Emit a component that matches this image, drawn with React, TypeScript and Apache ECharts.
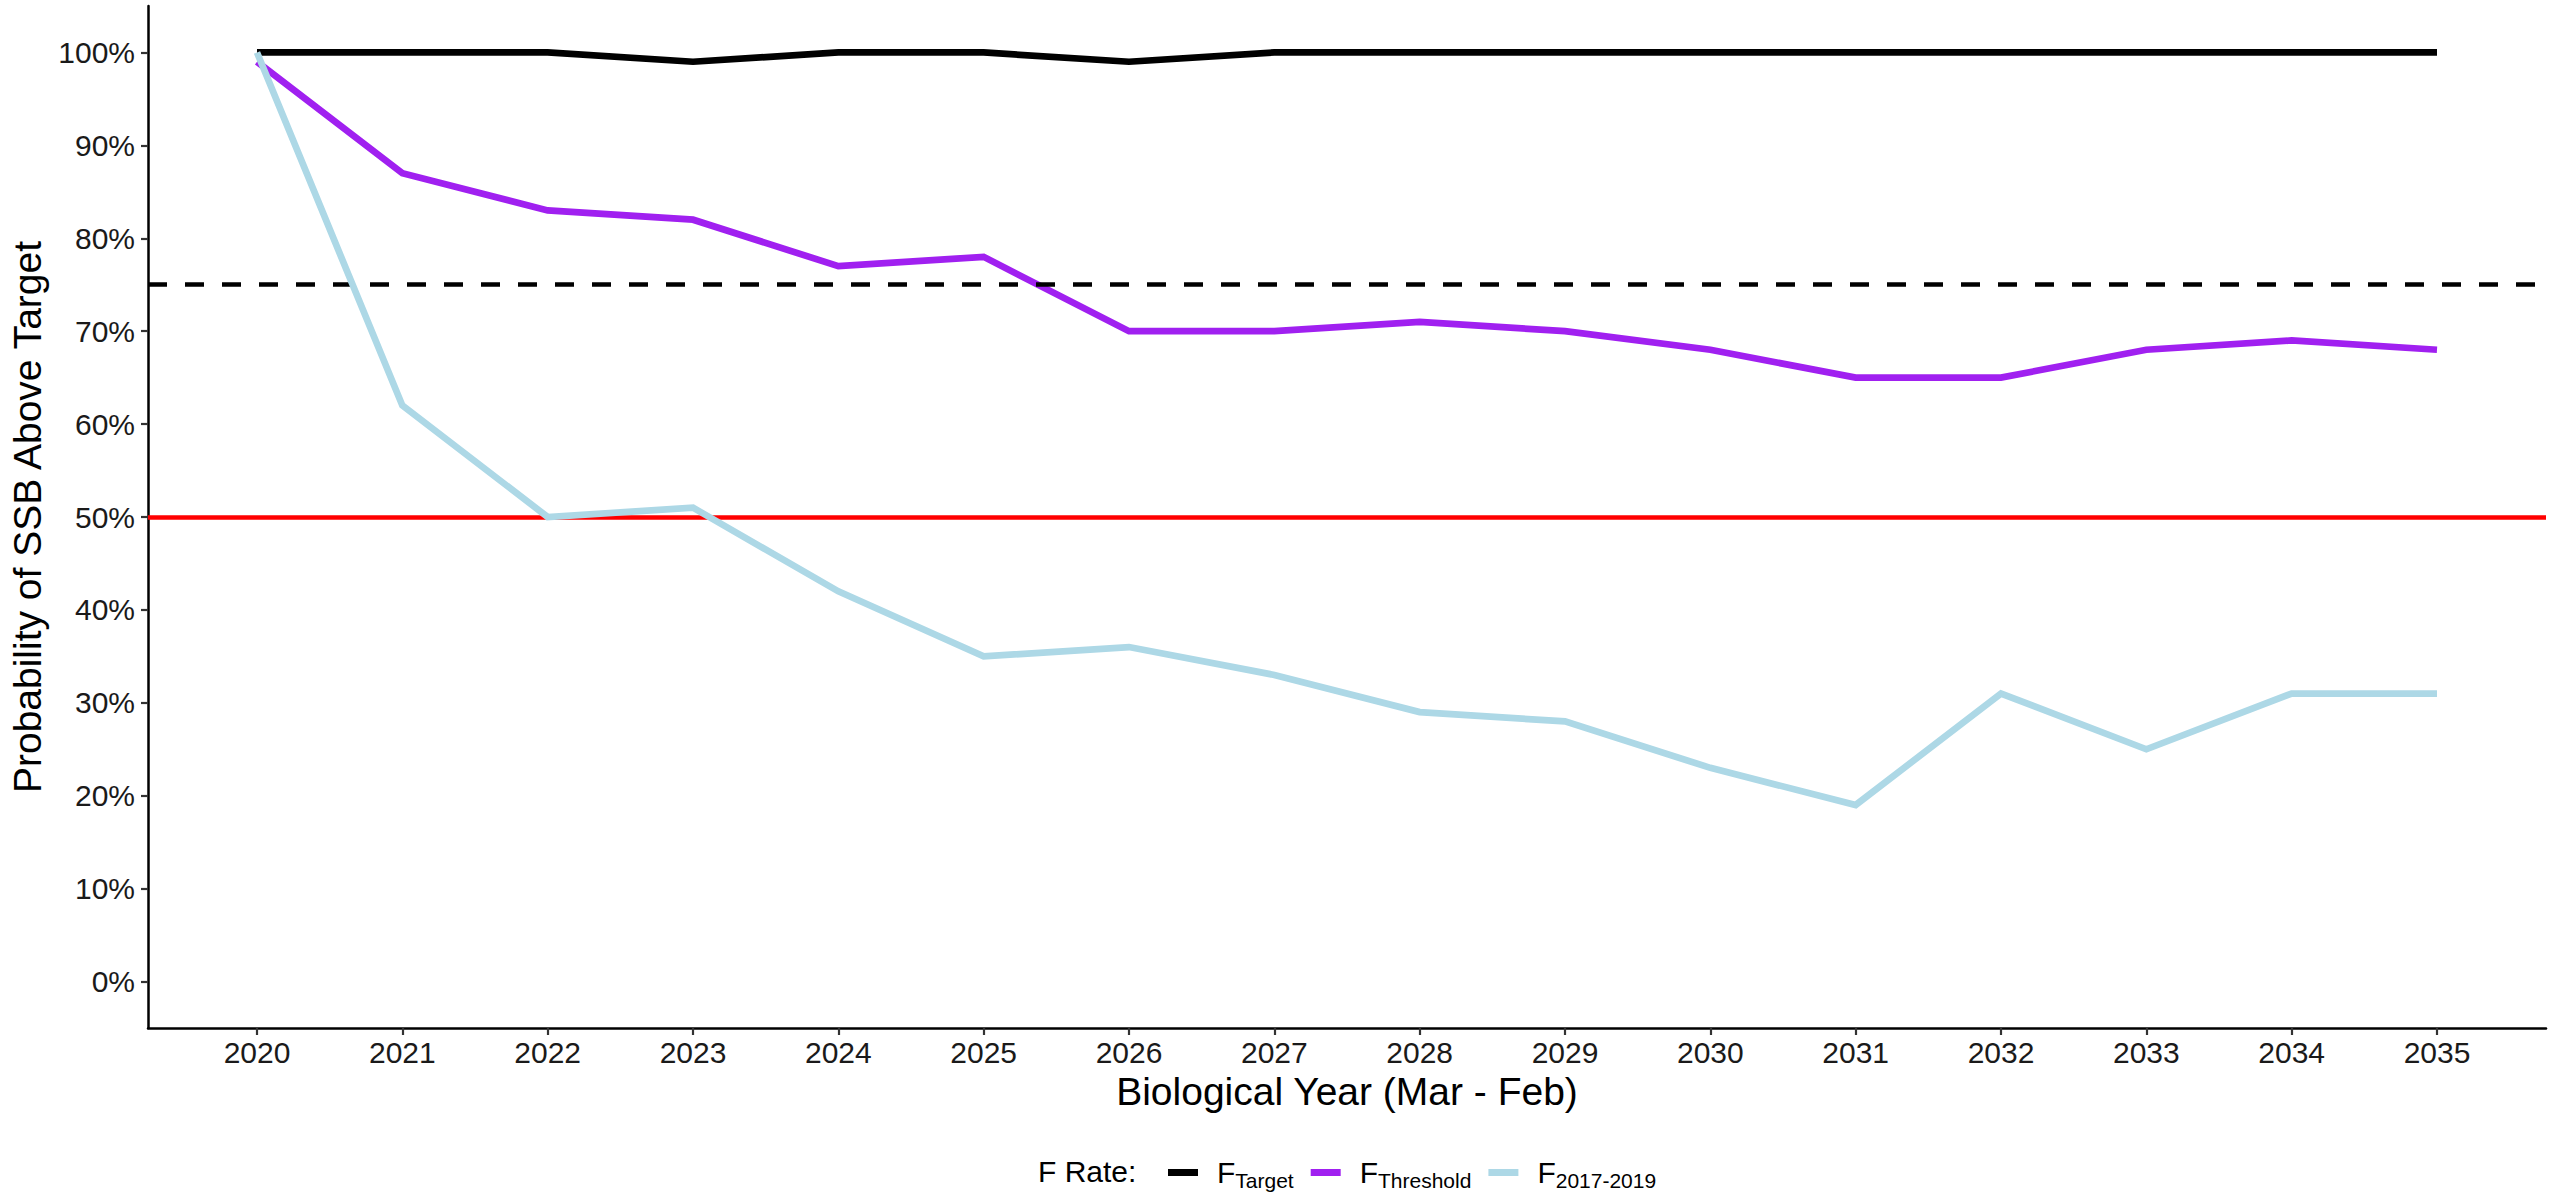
import React, { useEffect, useRef } from "react";
import * as echarts from "echarts";

const years = [2020, 2021, 2022, 2023, 2024, 2025, 2026, 2027, 2028, 2029, 2030, 2031, 2032, 2033, 2034, 2035];
const fTarget = [100, 100, 100, 99, 100, 100, 99, 100, 100, 100, 100, 100, 100, 100, 100, 100];
const fThreshold = [99, 87, 83, 82, 77, 78, 70, 70, 71, 70, 68, 65, 65, 68, 69, 68];
const f20172019 = [100, 62, 50, 51, 42, 35, 36, 33, 29, 28, 23, 19, 31, 25, 31, 31];
const yTicks = [0, 10, 20, 30, 40, 50, 60, 70, 80, 90, 100];
const seriesNames = ["FTarget", "FThreshold", "F2017-2019"];
const seriesSubs = ["Target", "Threshold", "2017-2019"];
const seriesColors = ["#000000", "#A020F0", "#ADD8E6"];
const dashedRef = 75;
const redRef = 50;

const FONT = "'Liberation Sans', Arial, Helvetica, sans-serif";

export default function App() {
  const ref = useRef<HTMLDivElement>(null);
  useEffect(() => {
    if (!ref.current) return;
    const chart = echarts.init(ref.current, null, { renderer: "svg" });
    const values = [fTarget, fThreshold, f20172019];
    const lineSeries = seriesNames.map((name, i) => ({
      name,
      type: "line",
      data: years.map((y, j) => [y, values[i][j]]),
      showSymbol: false,
      symbol: "none",
      z: 3 + i,
      itemStyle: { color: seriesColors[i] },
      lineStyle: { color: seriesColors[i], width: 6.7, cap: "butt", join: "miter" },
    }));
    const option = {
      animation: false,
      backgroundColor: "#ffffff",
      grid: { left: 148, right: 6, top: 6, bottom: 164, containLabel: false },
      xAxis: {
        type: "value",
        min: 2019.25,
        max: 2035.75,
        name: "Biological Year (Mar - Feb)",
        nameLocation: "middle",
        nameGap: 44,
        nameTextStyle: { fontFamily: FONT, fontSize: 39, color: "#000" },
        axisLine: { show: true, onZero: false, lineStyle: { color: "#000", width: 2.5 } },
        axisTick: { show: true, length: 7, lineStyle: { color: "#333", width: 2.2 }, customValues: years },
        axisLabel: {
          show: true,
          margin: 9,
          fontFamily: FONT,
          fontSize: 30,
          color: "#1a1a1a",
          customValues: years,
          formatter: (v: number) => String(v),
        },
        splitLine: { show: false },
      },
      yAxis: {
        type: "value",
        min: -5,
        max: 105,
        name: "Probability of SSB Above Target",
        nameLocation: "middle",
        nameGap: 98,
        nameRotate: 90,
        nameTextStyle: { fontFamily: FONT, fontSize: 39, color: "#000" },
        axisLine: { show: true, onZero: false, lineStyle: { color: "#000", width: 2.5 } },
        axisTick: { show: true, length: 7, lineStyle: { color: "#333", width: 2.2 }, customValues: yTicks },
        axisLabel: {
          show: true,
          margin: 13,
          fontFamily: FONT,
          fontSize: 30,
          color: "#1a1a1a",
          customValues: yTicks,
          formatter: (v: number) => v + "%",
        },
        splitLine: { show: false },
      },
      legend: {
        show: true,
        data: seriesNames,
        left: 1163,
        top: 1149,
        orient: "horizontal",
        icon: "rect",
        itemWidth: 30,
        itemHeight: 7,
        itemGap: 17,
        formatter: (name: string) => `{f|F}{s|${seriesSubs[seriesNames.indexOf(name)]}}`,
        textStyle: {
          fontFamily: FONT,
          color: "#000",
          rich: {
            f: { fontFamily: FONT, fontSize: 30, color: "#000", lineHeight: 34, padding: [0, 0, 0, 14], verticalAlign: "middle" },
            s: { fontFamily: FONT, fontSize: 21, color: "#000", lineHeight: 34, padding: [16, 0, 0, 0], verticalAlign: "middle" },
          },
        },
      },
      graphic: [
        {
          type: "text",
          left: 1038,
          top: 1156,
          style: { text: "F Rate:", fontFamily: FONT, fontSize: 30, fill: "#000" },
        },
      ],
      series: [
        ...lineSeries,
        {
          name: "refs",
          type: "line",
          data: [],
          z: 10,
          markLine: {
            silent: true,
            symbol: ["none", "none"],
            label: { show: false },
            animation: false,
            data: [
              { yAxis: dashedRef, lineStyle: { color: "#000", width: 4.5, type: [19, 18] } },
              { yAxis: redRef, lineStyle: { color: "#FF0000", width: 4.5, type: "solid" } },
            ],
          },
        },
      ],
    };
    chart.setOption(option as any);
    return () => chart.dispose();
  }, []);
  return (
    <div
      ref={ref}
      style={{ position: "fixed", left: 0, top: 0, width: 2552, height: 1192, background: "#fff" }}
    />
  );
}
